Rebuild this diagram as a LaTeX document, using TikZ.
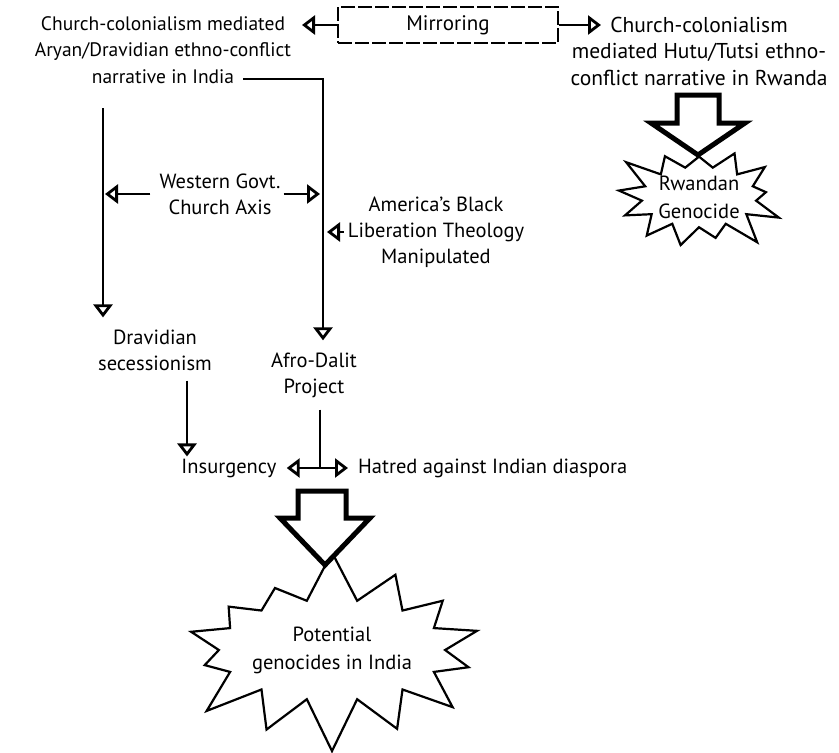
\documentclass[tikz,border=0pt]{standalone}
\usepackage{fontspec}
\setmainfont{PT Sans}
\usetikzlibrary{arrows.meta,shapes.symbols,calc}
\begin{document}
\begin{tikzpicture}[x=1pt,y=-1pt,
  txt/.style={font=\fontsize{20.5}{26}\selectfont, align=center, inner sep=0pt},
  conn/.style={line width=2.3pt},
  arr/.style={line width=2.3pt, -{Triangle[open, length=13pt, width=19pt, line width=2.8pt]}},
  block/.style={line width=5pt, line join=miter, fill=white},
  burst/.style={draw, line width=2.2pt, starburst, inner sep=0pt, font=\fontsize{20.5}{28}\selectfont, align=center}]
\useasboundingbox (0,0) rectangle (839,753);

% texts
\node[txt, font=\fontsize{19.5}{26.5}\selectfont] (india) at (163,50) {Church-colonialism mediated\\Aryan/Dravidian ethno-conflict\\narrative in India};
\node[draw, dash pattern=on 14pt off 3pt, line width=2pt, minimum width=220pt, minimum height=36pt, font=\fontsize{21}{26}\selectfont] (mirror) at (448,25) {Mirroring};
\node[txt, font=\fontsize{21.5}{26.5}\selectfont] (rwanda) at (699,51) {Church-colonialism\\mediated Hutu/Tutsi ethno-\\conflict narrative in Rwanda};
\node[txt] (west) at (220,194) {Western Govt.\\Church Axis};
\node[txt] (america) at (436,232) {America's Black\\Liberation Theology\\Manipulated};
\node[txt] (dravid) at (155,350) {Dravidian\\secessionism};
\node[txt] (afro) at (314,375) {Afro-Dalit\\Project};
\node[txt] (insurg) at (229,468) {Insurgency};
\node[txt, anchor=west] (hatred) at (358,468) {Hatred against Indian diaspora};

% starbursts
\node[burst, starburst points=14, starburst point height=52pt, random starburst=7, minimum width=272pt, minimum height=205pt] (bigburst) at (332,650) {Potential\\genocides in India};
\node[burst, starburst points=13, starburst point height=32pt, random starburst=3, minimum width=175pt, minimum height=120pt] (rburst) at (699,197) {Rwandan\\Genocide};

% mirroring arrows
\draw[arr] (mirror.west) -- ($(mirror.west)+(-35,0)$);
\draw[arr] (mirror.east) -- ($(mirror.east)+(42,0)$);

% india -> afro
\coordinate (istart) at (243,79);
\coordinate (iturn) at (323,79);
\draw[arr] (istart) -- (iturn) -- ($(afro.north -| iturn)+(0,-12)$);

% india -> dravidian
\coordinate (lv) at (103,108);
\draw[arr] (lv) -- ($(dravid.north -| lv)+(0,-12)$);

% western govt arrows
\draw[arr] ($(west.west)+(-9,0)$) -- ($(west.west -| lv)+(2,0)$);
\draw[arr] ($(west.east)+(3,0)$) -- ($(west.east -| iturn)+(-3,0)$);

% america arrow
\draw[arr] ($(america.west)+(-4,0)$) -- ($(america.west -| iturn)+(4,0)$);

% dravidian -> insurgency
\draw[arr] ($(dravid.south)+(32,10)$) -- ($(insurg.north)+(-42,-2)$);

% afro -> junction
\coordinate (j) at (320,468);
\draw[conn] ($(afro.south -| j)+(0,12)$) -- (j);
\draw[arr] (j) -- ($(insurg.east)+(10,0)$);
\draw[arr] (j) -- ($(hatred.west)+(-10,0)$);

% block arrows
\draw[block] (677,95) -- (719,95) -- (719,123) -- (745,123) -- (698,155) -- (651,123) -- (677,123) -- cycle;
\draw[block] (298,491) -- (346,491) -- (346,518) -- (370,518) -- (325,565) -- (280,518) -- (298,518) -- cycle;
\end{tikzpicture}
\end{document}
